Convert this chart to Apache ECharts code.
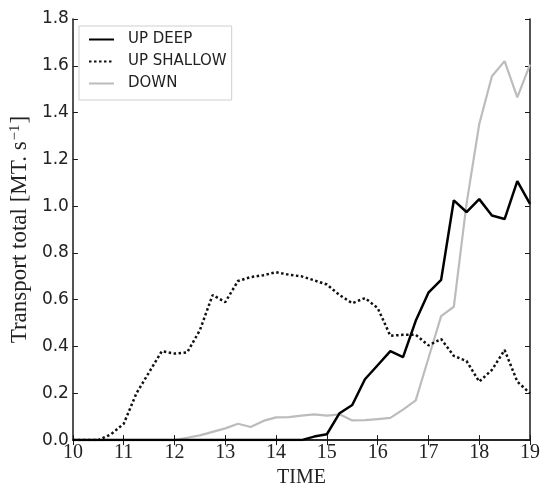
<!DOCTYPE html>
<html>
<head>
<meta charset="utf-8">
<title>Transport total</title>
<script src="https://cdn.jsdelivr.net/npm/echarts@6/dist/echarts.min.js"></script>
<style>
    html, body { margin: 0; padding: 0; background: #fff; }
    #echart_transport { width: 543px; height: 493px; }
</style>
</head>
<body>
<div id="echart_transport"></div>
<script>
// 时间轴 (TIME)
var times = [10, 10.25, 10.5, 10.75, 11, 11.25, 11.5, 11.75, 12, 12.25, 12.5, 12.75,
    13, 13.25, 13.5, 13.75, 14, 14.25, 14.5, 14.75, 15, 15.25, 15.5, 15.75,
    16, 16.25, 16.5, 16.75, 17, 17.25, 17.5, 17.75, 18, 18.25, 18.5, 18.75, 19];

var upDeep = [0, 0, 0, 0, 0, 0, 0, 0, 0, 0, 0, 0,
    0, 0, 0, 0, 0, 0, 0, 0.015, 0.025, 0.115, 0.15, 0.26,
    0.32, 0.38, 0.355, 0.51, 0.63, 0.685, 1.025, 0.975, 1.03, 0.96, 0.945, 1.107, 1.01];

var upShallow = [0, 0, 0, 0.025, 0.07, 0.2, 0.29, 0.38, 0.37, 0.375, 0.47, 0.62,
    0.59, 0.68, 0.697, 0.705, 0.718, 0.707, 0.7, 0.683, 0.665, 0.62, 0.585, 0.607,
    0.565, 0.446, 0.45, 0.45, 0.405, 0.432, 0.36, 0.338, 0.25, 0.3, 0.385, 0.25, 0.2];

var down = [0, 0, 0, 0, 0, 0, 0, 0, 0, 0.01, 0.02, 0.035,
    0.05, 0.07, 0.056, 0.082, 0.097, 0.098, 0.105, 0.11, 0.105, 0.11, 0.084, 0.085,
    0.09, 0.095, 0.13, 0.17, 0.35, 0.53, 0.57, 1.01, 1.35, 1.555, 1.62, 1.465, 1.605];

var xTicks = [10, 19, 1];      // min, max, interval
var yTicks = [0, 1.8, 0.2];

function pairs(vals) {
    return times.map(function (t, i) { return [t, vals[i]]; });
}

initTransportChart();

//初始化 Transport total 图
function initTransportChart() {
    var myChart = echarts.init(document.getElementById('echart_transport'));

    var frameLine = { show: true, lineStyle: { color: '#1a1a1a', width: 1.5 } };
    var inTick = { show: true, inside: true, length: 5, lineStyle: { color: '#1a1a1a', width: 1 } };

    var option = {
        animation: false,
        backgroundColor: '#fff',
        grid: {
            left: 72,
            right: 13,
            top: 19,
            bottom: 43
        },
        legend: {
            orient: 'vertical',
            left: 79,
            top: 26,
            padding: [6, 5, 9, 9],
            itemWidth: 25,
            itemHeight: 14,
            itemGap: 7,
            borderColor: '#cfcfcf',
            borderWidth: 1,
            backgroundColor: '#fff',
            itemStyle: { opacity: 0 },   // 只显示线, 不要圆点
            textStyle: {
                fontFamily: 'DejaVu Sans',
                fontSize: 15,
                color: '#222',
                padding: [0, 0, 0, 9]
            },
            data: ['UP DEEP', 'UP SHALLOW', 'DOWN']
        },
        xAxis: [
            {
                type: 'value',
                min: xTicks[0],
                max: xTicks[1],
                interval: xTicks[2],
                name: 'TIME',
                nameLocation: 'middle',
                nameGap: 22,
                nameTextStyle: {
                    fontFamily: 'Liberation Serif',
                    fontSize: 20,
                    color: '#222'
                },
                axisLine: frameLine,
                axisTick: inTick,
                splitLine: { show: false },
                axisLabel: {
                    margin: 3,
                    fontFamily: 'Liberation Serif',
                    fontSize: 20,
                    color: '#222'
                }
            },
            {
                type: 'value',
                position: 'top',
                min: xTicks[0],
                max: xTicks[1],
                interval: xTicks[2],
                axisLine: frameLine,
                axisTick: inTick,
                splitLine: { show: false },
                axisLabel: { show: false }
            }
        ],
        yAxis: [
            {
                type: 'value',
                min: yTicks[0],
                max: yTicks[1],
                interval: yTicks[2],
                name: 'Transport total [MT. s{sup|\u22121}]',
                nameLocation: 'middle',
                nameGap: 39,
                nameTextStyle: {
                    fontFamily: 'Liberation Serif',
                    fontSize: 23,
                    color: '#222',
                    rich: {
                        sup: {
                            fontFamily: 'Liberation Serif',
                            fontSize: 15,
                            color: '#222',
                            verticalAlign: 'top',
                            padding: [0, 1, 8, 1]
                        }
                    }
                },
                axisLine: frameLine,
                axisTick: inTick,
                splitLine: { show: false },
                axisLabel: {
                    margin: 4,
                    fontFamily: 'DejaVu Sans',
                    fontSize: 17,
                    color: '#222',
                    formatter: function (v) { return v.toFixed(1); }
                }
            },
            {
                type: 'value',
                position: 'right',
                min: yTicks[0],
                max: yTicks[1],
                interval: yTicks[2],
                axisLine: frameLine,
                axisTick: inTick,
                splitLine: { show: false },
                axisLabel: { show: false }
            }
        ],
        series: [
            {
                name: 'DOWN',
                type: 'line',
                symbol: 'none',
                z: 2,
                lineStyle: { color: '#bcbcbc', width: 2.2 },
                itemStyle: { color: '#bcbcbc' },
                data: pairs(down)
            },
            {
                name: 'UP SHALLOW',
                type: 'line',
                symbol: 'none',
                z: 3,
                lineStyle: { color: '#111', width: 2.5, type: [2.5, 2.5], cap: 'butt' },
                itemStyle: { color: '#111' },
                data: pairs(upShallow)
            },
            {
                name: 'UP DEEP',
                type: 'line',
                symbol: 'none',
                z: 4,
                lineStyle: { color: '#000', width: 2.5 },
                itemStyle: { color: '#000' },
                data: pairs(upDeep)
            }
        ]
    };

    myChart.setOption(option);
}
</script>
</body>
</html>
